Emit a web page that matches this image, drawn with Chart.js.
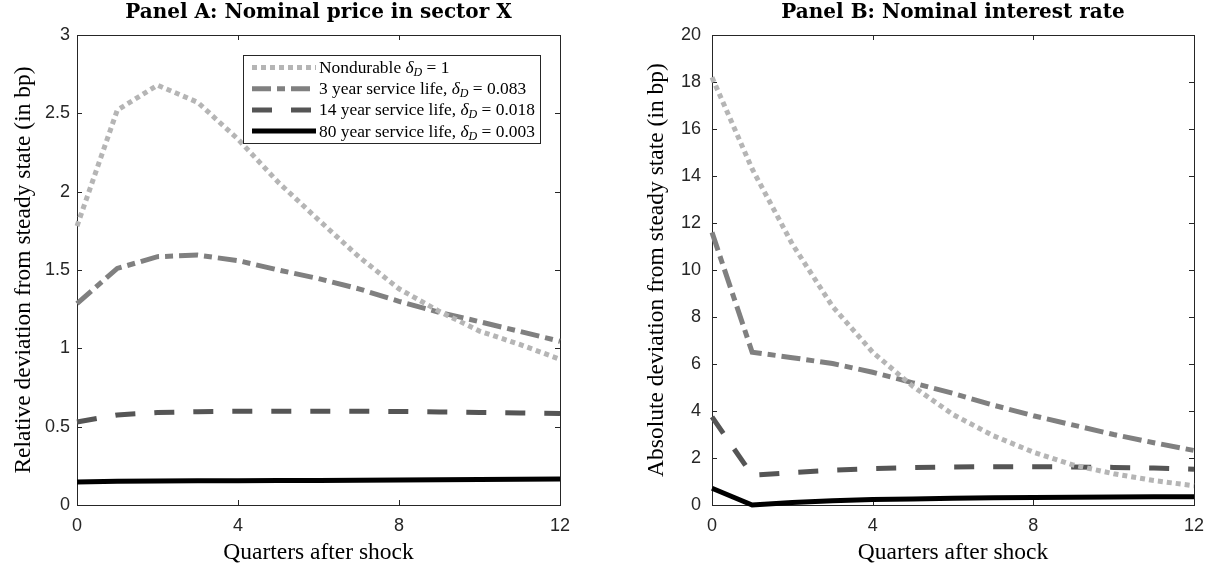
<!DOCTYPE html>
<html><head><meta charset="utf-8">
<script src="https://cdn.jsdelivr.net/npm/chart.js@4/dist/chart.umd.min.js"></script>
<style>
html,body{margin:0;padding:0;background:#fff;}
#wrap{position:relative;width:1216px;height:569px;background:#fff;}
canvas{position:absolute;top:0;}
#A{left:0;}
#B{left:608px;}
</style></head><body>
<div id="wrap"><canvas id="A" width="608" height="569"></canvas><canvas id="B" width="608" height="569"></canvas></div>
<script>
// ---- data ----
const quarters = [0,1,2,3,4,5,6,7,8,9,10,11,12];
const xTicks = [0,4,8,12];
const yTicksA = [0,0.5,1,1.5,2,2.5,3];
const yTicksB = [0,2,4,6,8,10,12,14,16,18,20];

const nondurA   = [1.78, 2.52, 2.68, 2.57, 2.335, 2.06, 1.82, 1.585, 1.38, 1.236, 1.11, 1.025, 0.93];
const threeA    = [1.285, 1.51, 1.585, 1.595, 1.56, 1.50, 1.445, 1.38, 1.30, 1.23, 1.17, 1.108, 1.045];
const fourteenA = [0.53, 0.575, 0.59, 0.596, 0.598, 0.599, 0.599, 0.598, 0.597, 0.594, 0.591, 0.588, 0.584];
const eightyA   = [0.147, 0.151, 0.153, 0.154, 0.155, 0.156, 0.157, 0.158, 0.160, 0.161, 0.163, 0.164, 0.166];

const nondurB   = [18.2, 14.3, 11.1, 8.45, 6.5, 5.05, 3.85, 2.95, 2.25, 1.7, 1.33, 1.04, 0.82];
const threeB    = [11.6, 6.5, 6.27, 6.02, 5.65, 5.2, 4.75, 4.25, 3.8, 3.4, 3.0, 2.65, 2.32];
const fourteenB = [3.75, 1.27, 1.38, 1.48, 1.55, 1.59, 1.62, 1.63, 1.63, 1.62, 1.6, 1.57, 1.52];
const eightyB   = [0.71, 0.0, 0.11, 0.18, 0.23, 0.26, 0.29, 0.31, 0.32, 0.33, 0.34, 0.35, 0.35];

const seriesNames = ["Nondurable", "3 year service life,", "14 year service life,", "80 year service life,"];
const deltaValues = ["1", "0.083", "0.018", "0.003"];

const titleA = "Panel A: Nominal price in sector X";
const titleB = "Panel B: Nominal interest rate";
const yTitleA = "Relative deviation from steady state (in bp)";
const yTitleB = "Absolute deviation from steady state (in bp)";
const xTitle = "Quarters after shock";

// ---- styles ----
const styles = [
  {color:'#b5b5b5', dash:[5,4]},
  {color:'#808080', dash:[19,6,8,6]},
  {color:'#555555', dash:[20,19]},
  {color:'#000000', dash:[]}
];
const AX = '#262626';
const SERIF = '"Liberation Serif", "DejaVu Serif", serif';
const SANS = '"Liberation Sans", Arial, sans-serif';

function makeDatasets(arrs){
  return arrs.map((arr,i)=>({
    label: seriesNames[i],
    data: quarters.map((q,k)=>({x:q,y:arr[k]})),
    borderColor: styles[i].color,
    borderDash: styles[i].dash,
    borderWidth: 5,
    borderCapStyle: 'butt',
    borderJoinStyle: 'miter',
    pointRadius: 0,
    tension: 0,
    fill: false,
    clip: 8
  }));
}

const framePlugin = {
  id:'frame',
  beforeDatasetsDraw(chart){
    const {ctx, chartArea:a, scales:{x,y}} = chart;
    ctx.save();
    ctx.strokeStyle = AX; ctx.lineWidth = 1;
    ctx.strokeRect(Math.round(a.left)+0.5, Math.round(a.top)+0.5, Math.round(a.right-a.left), Math.round(a.bottom-a.top));
    const L = 5;
    ctx.beginPath();
    x.ticks.forEach(t=>{
      const px = Math.round(x.getPixelForValue(t.value))+0.5;
      ctx.moveTo(px,a.bottom); ctx.lineTo(px,a.bottom-L);
      ctx.moveTo(px,a.top); ctx.lineTo(px,a.top+L);
    });
    y.ticks.forEach(t=>{
      const py = Math.round(y.getPixelForValue(t.value))+0.5;
      ctx.moveTo(a.left,py); ctx.lineTo(a.left+L,py);
      ctx.moveTo(a.right,py); ctx.lineTo(a.right-L,py);
    });
    ctx.stroke();
    ctx.restore();
  },
  afterDraw(chart){
    const o = chart.options.plugins.panelTitle;
    const {ctx, chartArea:a} = chart;
    ctx.save();
    ctx.font = 'bold 20px "DejaVu Serif", serif';
    ctx.fillStyle = '#000';
    ctx.textAlign = 'center'; ctx.textBaseline = 'middle';
    ctx.fillText(o.text, (a.left+a.right)/2, 13);
    ctx.restore();
  }
};

const legendPlugin = {
  id:'customLegend',
  afterDatasetsDraw(chart){
    const o = chart.options.plugins.customLegend;
    if(!o || !o.show) return;
    const {ctx, chartArea:a} = chart;
    const right = a.right - 20, left = right - 297, top = a.top + 20, h = 88;
    ctx.save();
    ctx.fillStyle = '#fff';
    ctx.fillRect(left, top, right-left, h);
    ctx.strokeStyle = AX; ctx.lineWidth = 1;
    ctx.strokeRect(Math.round(left)+0.5, Math.round(top)+0.5, Math.round(right-left), h);
    const fs = 17.4;
    chart.data.datasets.forEach((ds,i)=>{
      const cy = top + 12.5 + i*21.2;
      ctx.beginPath();
      ctx.strokeStyle = ds.borderColor; ctx.lineWidth = 5; ctx.lineCap='butt';
      ctx.setLineDash(ds.borderDash);
      ctx.moveTo(left+9, cy); ctx.lineTo(left+73, cy);
      ctx.stroke();
      ctx.setLineDash([]);
      let tx = left + 76;
      ctx.fillStyle = '#000'; ctx.textBaseline = 'alphabetic'; ctx.textAlign='left';
      const base = cy + 5.5;
      ctx.font = fs + 'px ' + SERIF;
      const t1 = ds.label + ' ';
      ctx.fillText(t1, tx, base); tx += ctx.measureText(t1).width;
      ctx.font = 'italic ' + fs + 'px ' + SERIF;
      ctx.fillText('δ', tx, base); tx += ctx.measureText('δ').width;
      ctx.font = 'italic 12px ' + SERIF;
      ctx.fillText('D', tx, base+3); tx += ctx.measureText('D').width;
      ctx.font = fs + 'px ' + SERIF;
      const t2 = ' = ' + deltaValues[i];
      ctx.fillText(t2, tx, base);
    });
    ctx.restore();
  }
};

function makeChart(id, arrs, yMin, yMax, yTitle, title, pad, yWidth, yTitlePad, yTickPad, showLegend){
  return new Chart(document.getElementById(id), {
    type:'line',
    data:{ datasets: makeDatasets(arrs) },
    options:{
      responsive:false, animation:false,
      layout:{ padding:{ left:0, right:pad.right, top:35, bottom:0 } },
      plugins:{ legend:{display:false}, tooltip:{enabled:false},
        panelTitle:{ text:title }, customLegend:{ show:showLegend } },
      scales:{
        x:{ type:'linear', min:0, max:12,
          afterBuildTicks: s => { s.ticks = xTicks.map(v=>({value:v})); },
          grid:{display:false, drawTicks:false}, border:{display:false},
          ticks:{ color:AX, font:{family:SANS, size:18}, padding:10, maxRotation:0, callback:v=>String(v) },
          title:{ display:true, text:xTitle, color:'#000', font:{family:SERIF, size:23.5}, padding:{top:0,bottom:2} },
          afterFit: s => { s.height = 64; }
        },
        y:{ min:yMin, max:yMax,
          afterBuildTicks: s => { s.ticks = (id==='A'?yTicksA:yTicksB).map(v=>({value:v})); },
          grid:{display:false, drawTicks:false}, border:{display:false},
          ticks:{ color:AX, font:{family:SANS, size:18}, padding:yTickPad, callback:v=>String(v) },
          title:{ display:true, text:yTitle, color:'#000', font:{family:SERIF, size:23.5}, padding:{top:yTitlePad,bottom:0} },
          afterFit: s => { s.width = yWidth; }
        }
      }
    },
    plugins:[framePlugin, legendPlugin]
  });
}

makeChart('A', [nondurA, threeA, fourteenA, eightyA], 0, 3, yTitleA, titleA, {right:48}, 77, 10, 7, true);
makeChart('B', [nondurB, threeB, fourteenB, eightyB], 0, 20, yTitleB, titleB, {right:22}, 104, 35, 11, false);
</script>
</body></html>
